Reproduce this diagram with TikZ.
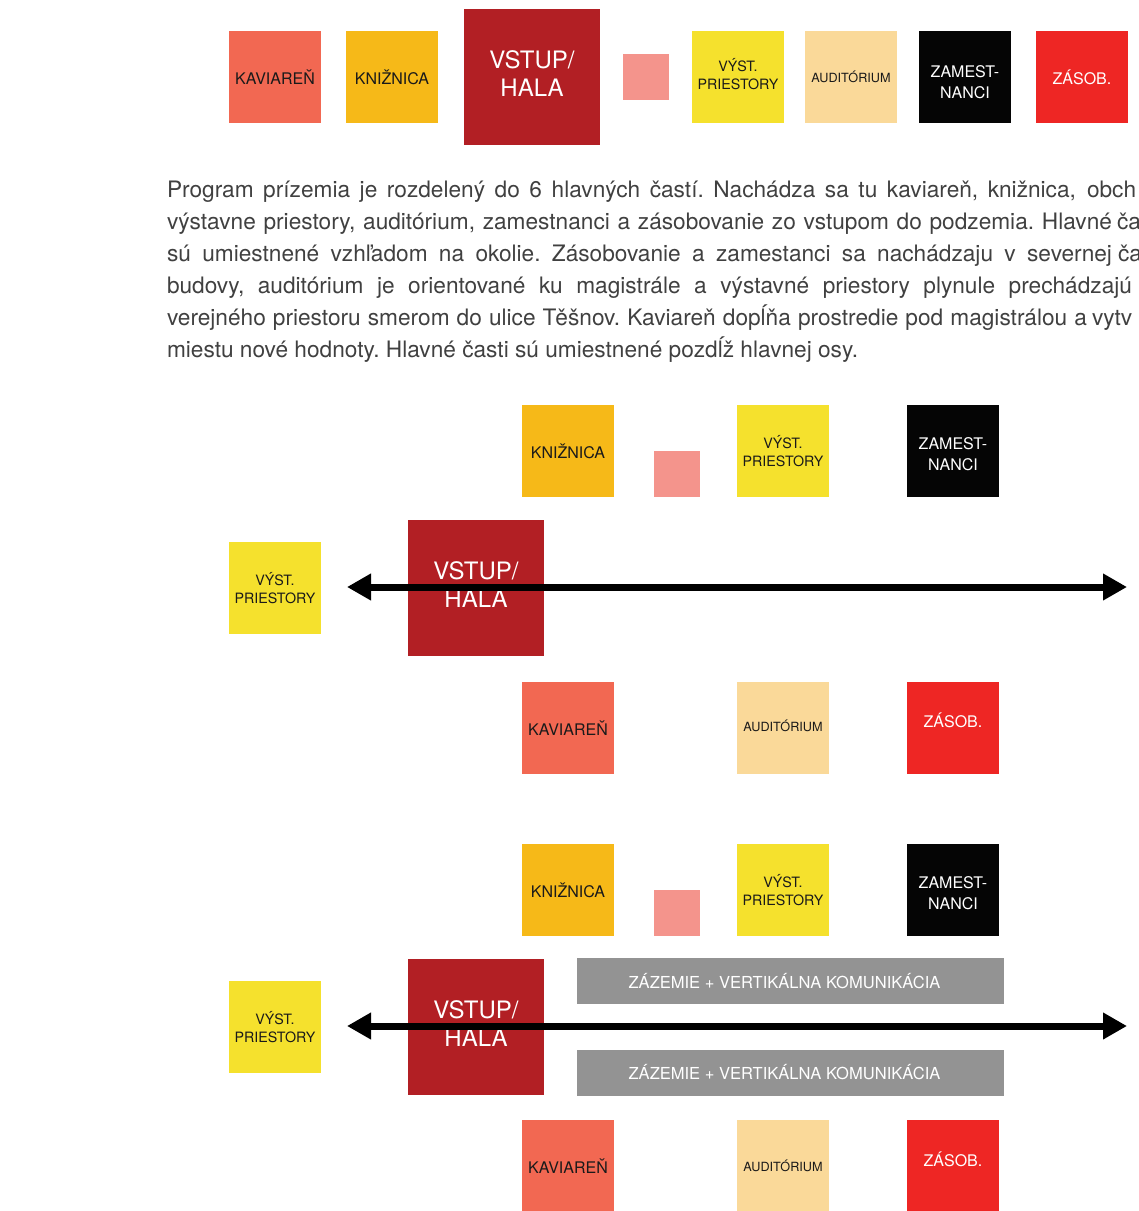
\documentclass[tikz,border=0pt]{standalone}
\usepackage{fontspec}
\setmainfont{TeX Gyre Heros}
\frenchspacing
\usetikzlibrary{arrows.meta}
\definecolor{cKav}{HTML}{F26852}
\definecolor{cKni}{HTML}{F6B918}
\definecolor{cVst}{HTML}{B21F24}
\definecolor{cPink}{HTML}{F4948C}
\definecolor{cVys}{HTML}{F5E12D}
\definecolor{cAud}{HTML}{FAD999}
\definecolor{cZam}{HTML}{050505}
\definecolor{cZas}{HTML}{EE2624}
\definecolor{cGray}{HTML}{939393}
\definecolor{cTxt}{HTML}{1A1A1A}
\definecolor{cPara}{HTML}{404040}
\tikzset{
  box/.style={inner sep=0pt, outer sep=0pt, minimum width=69pt, minimum height=69pt,
    text=cTxt, align=center, font=\fontsize{12}{15.75}\selectfont},
  kav/.style={box, fill=cKav},
  kni/.style={box, fill=cKni},
  vys/.style={box, fill=cVys, font=\fontsize{10.7}{13.5}\selectfont},
  aud/.style={box, fill=cAud, font=\fontsize{9.5}{12}\selectfont},
  zam/.style={box, fill=cZam, text=white},
  zamlbl/.style={inner sep=0pt, text=white, align=center, font=\fontsize{12}{15.75}\selectfont},
  zas/.style={box, fill=cZas, text=white},
  vst/.style={box, fill=cVst, minimum width=102pt, minimum height=102pt, text=white,
    font=\fontsize{18}{21.75}\selectfont},
  pinksq/.style={inner sep=0pt, outer sep=0pt, minimum size=34.5pt, fill=cPink},
  gbar/.style={inner sep=0pt, outer sep=0pt, minimum width=320.25pt, minimum height=34.5pt,
    fill=cGray, text=white, font=\fontsize{12.4}{15}\selectfont},
  para/.style={inner sep=0pt, outer sep=0pt, anchor=base west, text=cPara,
    font=\fontsize{17}{24}\selectfont},
  axis/.style={line width=5.25pt, {Triangle[length=18pt,width=19pt]}-{Triangle[length=18pt,width=19pt]}}
}
\newcommand\vstuptext[1]{\raisebox{#1}{\begin{tabular}{@{}c@{}}VSTUP/\\[-0.75pt]HALA\end{tabular}}}
\begin{document}
\begin{tikzpicture}[x=0.75pt, y=-0.75pt]
\useasboundingbox (0,0) rectangle (1139,1211);
\begin{scope}
\clip (0,0) rectangle (1139,1211);
% ---------- top row ----------
\node[kav] (t1) at (275,77) {KAVIAREŇ};
\node[kni] (t2) at (392,77) {KNIŽNICA};
\node[vst] (t3) at (532,77) {\vstuptext{2.5pt}};
\node[pinksq] (t4) at (646,77) {};
\node[vys] (t5) at (738,77) {\raisebox{1pt}{\begin{tabular}{@{}c@{}}VÝST.\\PRIESTORY\end{tabular}}};
\node[aud] (t6) at (851,77) {AUDITÓRIUM};
\node[zam, label={[zamlbl, yshift=-3.5pt]center:ZAMEST-\\NANCI}] (t7) at (965,77) {};
\node[zas] (t8) at (1082,77) {ZÁSOB.};
% ---------- paragraph ----------
\node[para] (p1) at (167,197) {\makebox[681.75pt][s]{Program prízemia je rozdelený do 6 hlavných častí. Nachádza sa tu kaviareň, knižnica,}};
\node[para] (p1b) at (1087,197) {obch};
\node[para] (p2) at (167,229) {\makebox[708.75pt][s]{výstavne priestory, auditórium, zamestnanci a zásobovanie zo vstupom do podzemia. Hlavné}};
\node[para] (p2b) at (1117,229) {ča};
\node[para] (p3) at (167,261) {\makebox[708.75pt][s]{sú umiestnené vzhľadom na okolie. Zásobovanie a zamestanci sa nachádzaju v severnej}};
\node[para] (p3b) at (1118,261) {ča};
\node[para] (p4) at (167,293) {\makebox[723.75pt][s]{budovy, auditórium je orientované ku magistrále a výstavné priestory plynule prechádzajú}};
\node[para] (p5) at (167,325) {\makebox[690pt][s]{verejného priestoru smerom do ulice Těšnov. Kaviareň dopĺňa prostredie pod magistrálou a}};
\node[para] (p5b) at (1092,325) {vytv};
\node[para] (p6) at (167,357) {miestu nové hodnoty. Hlavné časti sú umiestnené pozdĺž hlavnej osy.};
% ---------- middle diagram ----------
\node[kni] (m1) at (568,451) {KNIŽNICA};
\node[pinksq] (m2) at (677,474) {};
\node[vys] (m3) at (783,451) {VÝST.\\PRIESTORY};
\node[zam, label={[zamlbl, yshift=-2.5pt]center:ZAMEST-\\NANCI}] (m4) at (953,451) {};
\node[vys] (m5) at (275,588) {VÝST.\\PRIESTORY};
\node[vst] (m6) at (476,588) {\vstuptext{3pt}};
\node[kav] (m7) at (568,728) {KAVIAREŇ};
\node[aud] (m8) at (783,728) {\raisebox{3.5pt}{AUDITÓRIUM}};
\node[zas] (m9) at (953,728) {\raisebox{11.75pt}{ZÁSOB.}};
\coordinate (mL) at (347,587);
\coordinate (mR) at (1127,587);
\draw[axis] (mL) -- (mR);
% ---------- bottom diagram ----------
\node[kni] (b1) at (568,890) {KNIŽNICA};
\node[pinksq] (b2) at (677,913) {};
\node[vys] (b3) at (783,890) {VÝST.\\PRIESTORY};
\node[zam, label={[zamlbl, yshift=-2.5pt]center:ZAMEST-\\NANCI}] (b4) at (953,890) {};
\node[gbar] (b5) at (790.5,981) {\hspace*{-9pt}ZÁZEMIE + VERTIKÁLNA KOMUNIKÁCIA};
\node[vys] (b6) at (275,1027) {VÝST.\\PRIESTORY};
\node[vst] (b7) at (476,1027) {\vstuptext{3.75pt}};
\node[gbar] (b8) at (790.5,1072.5) {\hspace*{-9pt}ZÁZEMIE + VERTIKÁLNA KOMUNIKÁCIA};
\node[kav] (b9) at (568,1166) {KAVIAREŇ};
\node[aud] (b10) at (783,1166) {AUDITÓRIUM};
\node[zas] (b11) at (953,1166) {\raisebox{10pt}{ZÁSOB.}};
\coordinate (bL) at (347,1026);
\coordinate (bR) at (1127,1026);
\draw[axis] (bL) -- (bR);
\end{scope}
\end{tikzpicture}
\end{document}
